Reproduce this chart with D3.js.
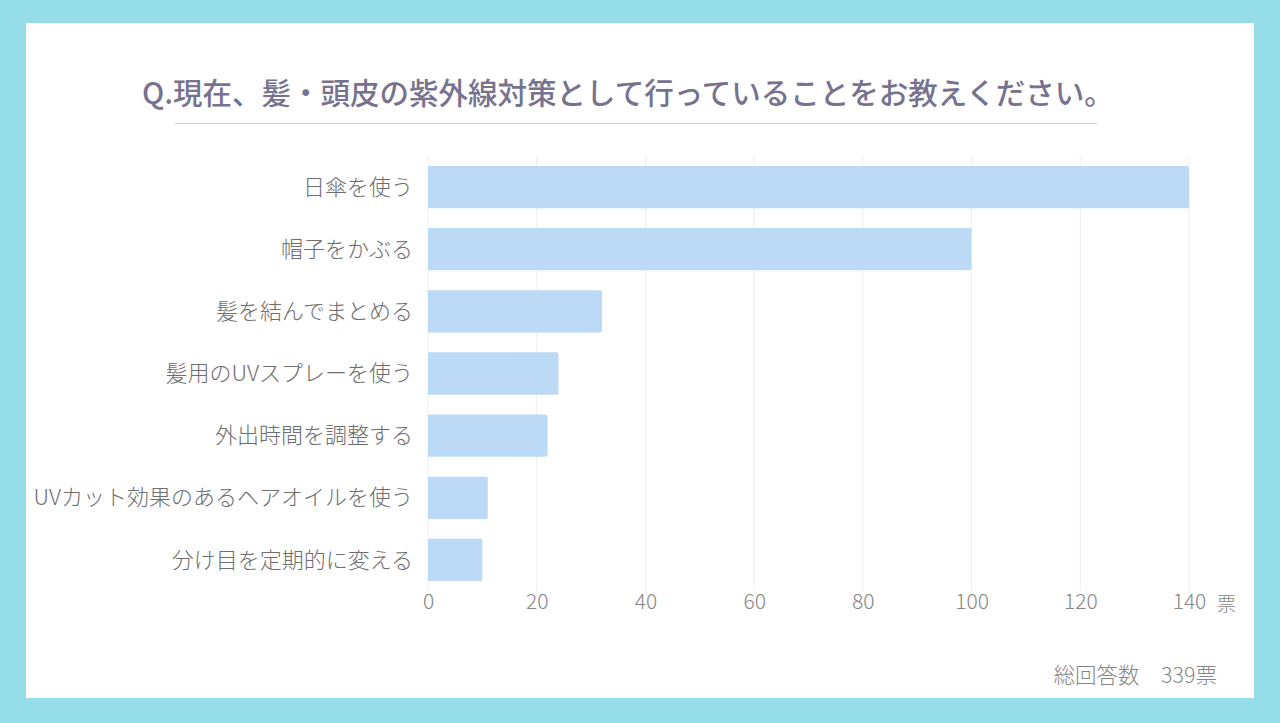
<!DOCTYPE html>
<html>
<head>
<meta charset="utf-8">
<script src="https://cdn.jsdelivr.net/npm/d3@7"></script>
<style>
  html, body { margin: 0; padding: 0; background: #94dde9; }
  svg { display: block; font-family: "Noto Sans CJK JP", "Noto Sans", sans-serif; }
</style>
</head>
<body>
<svg id="chart"></svg>
<script>
const titleText = 'Q.現在、髪・頭皮の紫外線対策として行っていることをお教えください。';
const categories = [
  '日傘を使う',
  '帽子をかぶる',
  '髪を結んでまとめる',
  '髪用のUVスプレーを使う',
  '外出時間を調整する',
  'UVカット効果のあるヘアオイルを使う',
  '分け目を定期的に変える'
];
const votes = [140, 100, 32, 24, 22, 11, 10];
const xTicks = [0, 20, 40, 60, 80, 100, 120, 140];
const unitLabel = '票';
const totalLabel = '総回答数';

const width = 1280, height = 723;
const margin = { top: 156, right: 91, bottom: 132, left: 428 };

const svg = d3.select('#chart')
  .attr('width', width)
  .attr('height', height);

// white card
svg.append('rect')
  .attr('x', 26).attr('y', 23)
  .attr('width', 1228).attr('height', 675)
  .attr('fill', '#fff');

// title
svg.append('text')
  .attr('x', 142).attr('y', 104)
  .attr('font-size', 29.5)
  .attr('font-weight', 500)
  .attr('fill', '#77738f')
  .text(titleText);

svg.append('line')
  .attr('x1', 175).attr('x2', 1097)
  .attr('y1', 123.5).attr('y2', 123.5)
  .attr('stroke', '#c8c8cc')
  .attr('stroke-width', 1.2);

const x = d3.scaleLinear()
  .domain([0, 140])
  .range([margin.left, width - margin.right]);

const y = d3.scaleBand()
  .domain(categories)
  .range([margin.top, height - margin.bottom])
  .paddingInner(0.32)
  .paddingOuter(0.16);

const g = svg.append('g');

// grid lines
g.append('g')
  .selectAll('line')
  .data(xTicks)
  .join('line')
  .attr('x1', d => x(d)).attr('x2', d => x(d))
  .attr('y1', margin.top).attr('y2', height - margin.bottom)
  .attr('stroke', '#ededf0')
  .attr('stroke-width', 1);

// bars
g.append('g')
  .selectAll('path')
  .data(categories)
  .join('path')
  .attr('fill', '#bcdaf5')
  .attr('d', (d, i) => {
    const x0 = x(0), x1 = x(votes[i]);
    const y0 = y(d), h = y.bandwidth(), r = 2;
    return `M${x0},${y0}H${x1 - r}Q${x1},${y0} ${x1},${y0 + r}V${y0 + h - r}Q${x1},${y0 + h} ${x1 - r},${y0 + h}H${x0}Z`;
  });

// category labels
g.append('g')
  .selectAll('text')
  .data(categories)
  .join('text')
  .attr('x', margin.left - 15)
  .attr('y', d => y(d) + y.bandwidth() / 2)
  .attr('dy', '0.35em')
  .attr('text-anchor', 'end')
  .attr('font-size', 22)
  .attr('font-weight', 300)
  .attr('fill', '#6e6e6e')
  .text(d => d);

// x axis tick labels
const xAxis = d3.axisBottom(x)
  .tickValues(xTicks)
  .tickSize(0)
  .tickPadding(0);

const axisG = svg.append('g')
  .attr('transform', `translate(0,${height - margin.bottom + 3})`)
  .call(xAxis);
axisG.select('.domain').remove();
axisG.selectAll('text')
  .attr('font-family', '"Noto Sans CJK JP", "Noto Sans", sans-serif')
  .attr('font-size', 21)
  .attr('font-weight', 300)
  .attr('fill', '#868686');

svg.append('text')
  .attr('x', 1217).attr('y', 611)
  .attr('font-size', 19)
  .attr('font-weight', 300)
  .attr('fill', '#868686')
  .text(unitLabel);

svg.append('text')
  .attr('x', 1217).attr('y', 683)
  .attr('text-anchor', 'end')
  .attr('font-size', 21.5)
  .attr('font-weight', 300)
  .attr('fill', '#868686')
  .text(`${totalLabel}　${d3.sum(votes)}${unitLabel}`);
</script>
</body>
</html>
